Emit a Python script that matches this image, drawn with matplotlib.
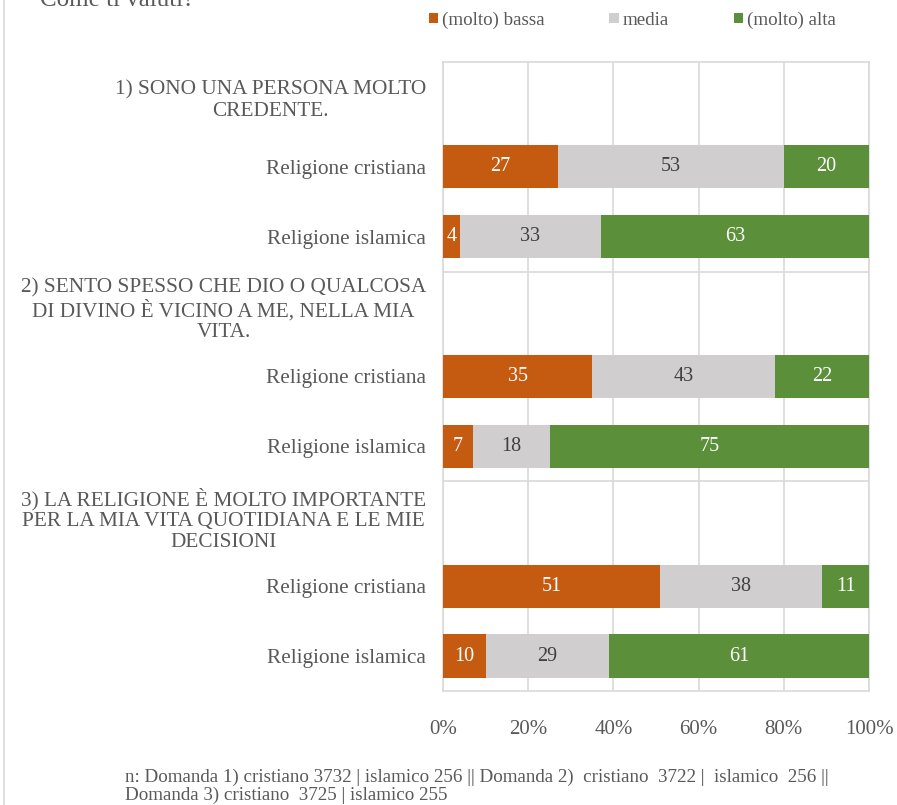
import matplotlib.pyplot as plt
from matplotlib.patches import Patch
from matplotlib.lines import Line2D

plt.rcParams['font.family'] = ['Liberation Serif', 'DejaVu Serif']

# rows top to bottom: header, cristiana, islamica for each question
labels = [
    "1) SONO UNA PERSONA MOLTO\nCREDENTE.",
    "Religione cristiana",
    "Religione islamica",
    "2) SENTO SPESSO CHE DIO O QUALCOSA\nDI DIVINO È VICINO A ME, NELLA MIA\nVITA.",
    "Religione cristiana",
    "Religione islamica",
    "3) LA RELIGIONE È MOLTO IMPORTANTE\nPER LA MIA VITA QUOTIDIANA E LE MIE\nDECISIONI",
    "Religione cristiana",
    "Religione islamica",
]
bassa = [None, 27, 4, None, 35, 7, None, 51, 10]
media = [None, 53, 33, None, 43, 18, None, 38, 29]
alta = [None, 20, 63, None, 22, 75, None, 11, 61]
series_names = ["(molto) bassa", "media", "(molto) alta"]
colors = ["#C55A11", "#D0CECE", "#5B8F3A"]
text_colors = ["white", "#404040", "white"]
xticks = [0, 20, 40, 60, 80, 100]
xticklabels = ["0%", "20%", "40%", "60%", "80%", "100%"]
footnote = ("n: Domanda 1) cristiano 3732 | islamico 256 || Domanda 2)  cristiano  3722 |  islamico  256 ||\n"
            "Domanda 3) cristiano  3725 | islamico 255")

grey = "#595959"
grid = "#D9D9D9"

fig = plt.figure(figsize=(8.97, 8.05), dpi=100)
ax = fig.add_axes([0.4939, 0.1416, 0.4749, 0.7814])

ypos = list(range(len(labels)))
left = [0] * len(labels)
for vals, col, tcol in zip([bassa, media, alta], colors, text_colors):
    for i, v in enumerate(vals):
        if v is None:
            continue
        ax.barh(i, v, left=left[i], height=0.62, color=col, zorder=3)
        ax.text(left[i] + v / 2, i, str(v), ha="center", va="center",
                color=tcol, fontsize=14.5, zorder=4)
        left[i] += v

ax.set_xlim(0, 100)
ax.set_ylim(len(labels) - 0.5, -0.5)
ax.set_yticks(ypos)
ax.set_yticklabels(labels, fontsize=15.3, color=grey)
for t in ax.get_yticklabels():
    t.set_multialignment("center")
    t.set_linespacing(1.15)
ax.set_xticks(xticks)
ax.set_xticklabels(xticklabels, fontsize=15, color=grey)
ax.tick_params(axis="both", length=0)
ax.tick_params(axis="y", pad=12)
ax.tick_params(axis="x", pad=21)
ax.grid(axis="x", color=grid, linewidth=1.2, zorder=0)
for y in (2.5, 5.5):
    ax.axhline(y, color=grid, linewidth=1.2, zorder=0)
for s in ax.spines.values():
    s.set_color(grid)
    s.set_linewidth(1.2)

handles = [Patch(facecolor=c, edgecolor="none") for c in colors]
fig.legend(handles, series_names, loc="center", bbox_to_anchor=(0.705, 0.975),
           ncol=3, frameon=False, fontsize=13.7, labelcolor=grey,
           handlelength=0.5, handleheight=0.5, handletextpad=0.2,
           columnspacing=3.4)

fig.text(0.045, 0.993, "Come ti valuti?", fontsize=18, color=grey,
         ha="left", va="baseline")
fig.text(0.139, 0.001, footnote, fontsize=13.7, color=grey,
         ha="left", va="bottom", linespacing=1.1)

fig.add_artist(Line2D([0.005, 0.005], [0, 1], transform=fig.transFigure,
                      color=grid, linewidth=1.2))

fig.savefig("out.png", dpi=100)
